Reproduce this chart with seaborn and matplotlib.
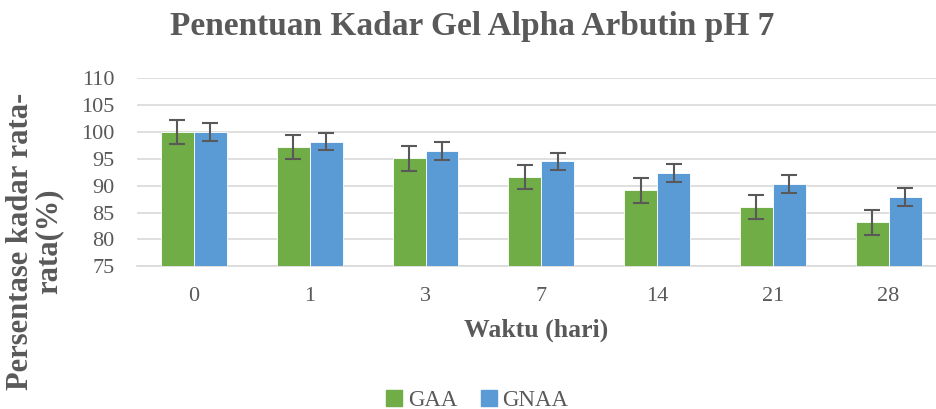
import matplotlib
matplotlib.use("Agg")
import matplotlib.pyplot as plt
import seaborn as sns
import pandas as pd
import numpy as np

categories = ["0", "1", "3", "7", "14", "21", "28"]
gaa = [100.0, 97.2, 95.1, 91.6, 89.1, 86.0, 83.2]
gnaa = [100.0, 98.2, 96.5, 94.5, 92.4, 90.3, 87.9]
gaa_err = [2.3, 2.3, 2.3, 2.3, 2.3, 2.3, 2.3]
gnaa_err = [1.65, 1.65, 1.65, 1.65, 1.65, 1.7, 1.65]
series = ["GAA", "GNAA"]
yticks = [75, 80, 85, 90, 95, 100, 105, 110]

df = pd.DataFrame({
    "Waktu": categories * 2,
    "Kadar": gaa + gnaa,
    "Seri": [series[0]] * len(categories) + [series[1]] * len(categories),
})

sns.set_theme(style="white")
plt.rcParams["font.family"] = ["Liberation Serif", "DejaVu Serif"]

gray = "#595959"
colors = ["#70AD47", "#5B9BD5"]
fig = plt.figure(figsize=(9.36, 4.09), dpi=100)
ax = fig.add_axes([0.1464, 0.349, 0.8536, 0.46])

sns.barplot(data=df, x="Waktu", y="Kadar", hue="Seri", order=categories,
            hue_order=series, palette=colors, saturation=1, width=0.57,
            errorbar=None, edgecolor="white", linewidth=0.6, ax=ax, zorder=3)

for cont, errs in zip(ax.containers, [gaa_err, gnaa_err]):
    xs = [p.get_x() + p.get_width() / 2 for p in cont.patches]
    hs = [p.get_height() + p.get_y() for p in cont.patches]
    ax.errorbar(xs, hs, yerr=errs, fmt="none", ecolor=gray, elinewidth=1.5,
                capsize=6, capthick=1.5, zorder=4)

ax.set_ylim(75, 110)
ax.set_xlim(-0.492, 6.41)
ax.set_yticks(yticks)
ax.yaxis.grid(True, color="#D9D9D9", linewidth=1.2, zorder=0)
ax.xaxis.grid(False)
for s in ["top", "right", "left"]:
    ax.spines[s].set_visible(False)
ax.spines["bottom"].set_color("#D9D9D9")
ax.spines["bottom"].set_linewidth(1.2)
ax.tick_params(axis="y", length=0, pad=16, labelsize=16, labelcolor=gray)
ax.tick_params(axis="x", length=0, pad=15, labelsize=16, labelcolor=gray)

ax.set_xlabel("Waktu (hari)", fontsize=18.5, fontweight="bold", color=gray, labelpad=9)
ax.set_ylabel("")
fig.text(0.037, 0.41, "Persentase kadar rata-\nrata(%)", rotation=90,
         ha="center", va="center", multialignment="center", fontsize=22,
         fontweight="bold", color=gray, linespacing=0.95)

fig.text(0.505, 0.935, "Penentuan Kadar Gel Alpha Arbutin pH 7", ha="center",
         va="center", fontsize=24, fontweight="bold", color=gray)

ax.legend_.remove()
handles = [plt.Line2D([], [], marker="s", linestyle="none", markersize=11,
                      color=c) for c in colors]
fig.legend(handles, series, loc="center", bbox_to_anchor=(0.51, 0.022),
           ncol=2, frameon=False, fontsize=16.5, labelcolor=gray,
           handlelength=0.7, handletextpad=0.25, columnspacing=1.0, borderpad=0)

fig.savefig("out.png", dpi=100)
